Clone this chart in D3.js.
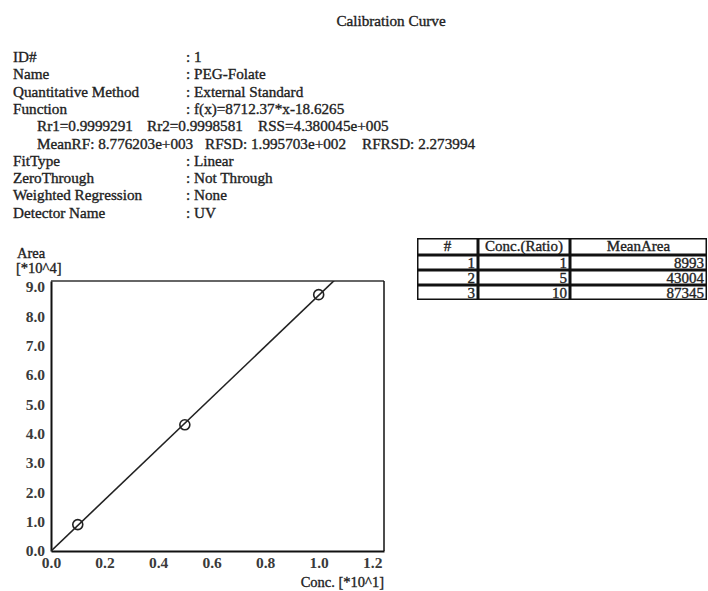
<!DOCTYPE html>
<html>
<head>
<meta charset="utf-8">
<script src="https://cdn.jsdelivr.net/npm/d3@7"></script>
<style>
  body { margin: 0; background: #fff; }
  svg text { font-family: "Liberation Serif", "Times New Roman", serif; fill: #222; stroke: #222; stroke-width: 0.35px; }
</style>
</head>
<body>
<div id="chart"></div>
<script>
// calibration data
const concRatio = [1, 5, 10];
const meanArea = [8993, 43004, 87345];
const fitSlope = 8712.37;
const fitIntercept = -18.6265;
const xTicks = [0, 0.2, 0.4, 0.6, 0.8, 1.0, 1.2];
const yTicks = [0, 1, 2, 3, 4, 5, 6, 7, 8, 9];

const infoLabels = ["ID#", "Name", "Quantitative Method", "Function", null, null,
  "FitType", "ZeroThrough", "Weighted Regression", "Detector Name"];
const infoValues = [": 1", ": PEG-Folate", ": External Standard", ": f(x)=8712.37*x-18.6265",
  ["Rr1=0.9999291", "Rr2=0.9998581", "RSS=4.380045e+005"],
  ["MeanRF: 8.776203e+003", "RFSD: 1.995703e+002", "RFRSD: 2.273994"],
  ": Linear", ": Not Through", ": None", ": UV"];
const statCols = [[37, 147, 258], [37, 205, 362]];

const width = 708, height = 591;
const fs = 15.2;
const svg = d3.select("#chart").append("svg")
  .attr("width", width).attr("height", height);

svg.append("text").attr("x", 391).attr("y", 26)
  .attr("text-anchor", "middle").attr("font-size", fs)
  .text("Calibration Curve");

// header block
infoLabels.forEach((lab, i) => {
  const y = 62 + i * 17.3;
  if (lab) {
    svg.append("text").attr("x", 13).attr("y", y).attr("font-size", fs).text(lab);
    svg.append("text").attr("x", 186).attr("y", y).attr("font-size", fs).text(infoValues[i]);
  } else {
    const cols = statCols[i - 4];
    infoValues[i].forEach((t, k) => {
      svg.append("text").attr("x", cols[k]).attr("y", y).attr("font-size", fs).text(t);
    });
  }
});

// plot
const x = d3.scaleLinear().domain([0, 1.244]).range([51, 384]);
const y = d3.scaleLinear().domain([0, 9.2]).range([551, 281]);

svg.append("defs").append("clipPath").attr("id", "clip")
  .append("rect").attr("x", 51).attr("y", 281).attr("width", 333).attr("height", 270);

// frame
svg.append("line").attr("x1", 51).attr("x2", 384).attr("y1", 281).attr("y2", 281)
  .attr("stroke", "#333").attr("stroke-width", 1.5);
svg.append("line").attr("x1", 384).attr("x2", 384).attr("y1", 281).attr("y2", 551)
  .attr("stroke", "#111").attr("stroke-width", 1.5);

const xAxis = svg.append("g").attr("transform", "translate(0,551)")
  .call(d3.axisBottom(x).tickValues(xTicks).tickSize(0).tickPadding(6).tickFormat(d3.format(".1f")));
const yAxis = svg.append("g").attr("transform", "translate(51,0)")
  .call(d3.axisLeft(y).tickValues(yTicks).tickSize(0).tickPadding(6).tickFormat(d3.format(".1f")));
[xAxis, yAxis].forEach(g => {
  g.select(".domain").attr("stroke", "#111").attr("stroke-width", 2);
  g.selectAll("text").attr("font-size", 15.5).attr("font-weight", "bold")
    .attr("font-family", "Liberation Serif").style("fill", "#3a3a3a").style("stroke", "none");
});

svg.append("text").attr("x", 17).attr("y", 258).attr("font-size", 14.5).text("Area");
svg.append("text").attr("x", 16).attr("y", 273).attr("font-size", 14.5).text("[*10^4]");
svg.append("text").attr("x", 384).attr("y", 587).attr("text-anchor", "end")
  .attr("font-size", 14.5).text("Conc. [*10^1]");

// regression line
const fx = c => (fitSlope * c + fitIntercept) / 1e4;
const xEnd = 1.244;
svg.append("line").attr("clip-path", "url(#clip)")
  .attr("x1", x(0)).attr("y1", y(fx(0)))
  .attr("x2", x(xEnd)).attr("y2", y(fx(xEnd * 10)))
  .attr("stroke", "#222").attr("stroke-width", 1.6);

svg.selectAll(".pt").data(concRatio).enter().append("circle")
  .attr("class", "pt")
  .attr("cx", (d) => x(d / 10))
  .attr("cy", (d, i) => y(meanArea[i] / 1e4))
  .attr("r", 5).attr("fill", "none").attr("stroke", "#222").attr("stroke-width", 1.6);

// table
const colX = [417, 478, 570, 707];
const rowY = [238, 255, 270, 285, 300];
const headers = ["#", "Conc.(Ratio)", "MeanArea"];
const rows = concRatio.map((c, i) => [String(i + 1), String(c), String(meanArea[i])]);

const tbl = svg.append("g");
for (let r = 0; r < rowY.length - 1; r++) {
  for (let c = 0; c < colX.length - 1; c++) {
    tbl.append("rect")
      .attr("x", colX[c] + 0.75).attr("y", rowY[r] + 0.75)
      .attr("width", colX[c + 1] - colX[c] - 1.5).attr("height", rowY[r + 1] - rowY[r] - 1.5)
      .attr("fill", "none").attr("stroke", "#111").attr("stroke-width", 1.5);
  }
}
headers.forEach((h, c) => {
  tbl.append("text").attr("x", (colX[c] + colX[c + 1]) / 2).attr("y", rowY[1] - 4)
    .attr("text-anchor", "middle").attr("font-size", 15).text(h);
});
rows.forEach((row, r) => {
  row.forEach((v, c) => {
    tbl.append("text").attr("x", colX[c + 1] - 3).attr("y", rowY[r + 2] - 2.5)
      .attr("text-anchor", "end").attr("font-size", 15).text(v);
  });
});
</script>
</body>
</html>
